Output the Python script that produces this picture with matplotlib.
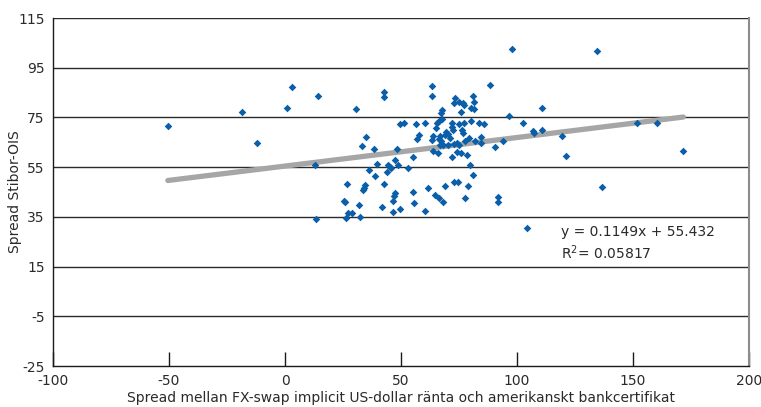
import matplotlib
matplotlib.use("Agg")
import matplotlib.pyplot as plt
import numpy as np

# Data
x_vals = [
    -50.5, -18.5, -12.0, 0.9, 3.2, 14.4, 13.0, 13.3,
    42.7, 42.7, 30.7, 49.5, 51.2, 56.3, 57.8, 57.0, 35.0, 33.2, 38.2, 48.3,
    55.0, 47.3, 39.6, 44.2, 45.2, 45.6, 48.9, 36.0, 43.8, 53.1, 38.7, 26.8,
    42.6, 34.5, 34.0, 33.7, 47.5, 46.9, 46.5, 55.0, 55.7, 25.4, 25.7, 31.7,
    42.0, 49.5, 46.6, 27.1, 28.7, 32.4, 26.1,
    63.2, 63.3, 88.4, 73.1, 72.7, 75.1, 76.8, 77.1, 80.9, 81.4, 80.0, 81.4,
    75.9, 67.6, 67.2, 96.6, 60.3, 65.6, 66.2, 67.6, 65.3, 71.8, 72.1, 72.2,
    74.9, 77.2, 76.5, 76.8, 80.0, 83.6, 85.7, 69.3, 68.8, 70.3, 71.1, 66.8,
    66.4, 67.1, 63.9, 63.4, 66.8, 68.2, 70.3, 72.8, 74.2, 75.1, 77.8, 79.3,
    82.1, 84.3, 84.3, 93.8, 90.6, 63.9, 66.0, 74.2, 75.9, 78.4, 71.9, 79.8,
    80.9, 61.7, 68.9, 72.7, 74.4, 79.0, 64.6, 66.5, 68.0, 77.8, 91.8, 91.8,
    60.3,
    97.8, 134.4, 102.7, 110.6, 107.1, 107.4, 110.6, 119.4, 121.1, 151.6,
    160.2, 171.7, 136.6, 104.1,
]
y_vals = [
    71.5, 77.0, 64.8, 78.9, 87.1, 83.7, 55.8, 34.3,
    85.3, 83.3, 78.4, 72.2, 72.8, 72.3, 67.9, 66.3, 67.0, 63.6, 62.1, 62.5,
    58.9, 57.8, 56.2, 55.8, 55.1, 54.7, 55.8, 53.9, 53.0, 54.5, 51.5, 48.4,
    48.4, 47.7, 46.8, 46.0, 44.4, 43.4, 41.3, 44.8, 40.4, 41.4, 40.8, 39.6,
    38.9, 38.0, 36.9, 36.6, 36.4, 35.1, 34.5,
    87.7, 83.5, 88.0, 82.8, 80.8, 81.3, 80.8, 80.2, 83.5, 81.1, 78.9, 78.4,
    77.1, 77.8, 76.6, 75.7, 72.8, 72.8, 73.5, 74.4, 70.8, 72.6, 71.2, 69.9,
    72.2, 72.6, 69.9, 68.6, 73.6, 72.6, 72.3, 69.2, 67.9, 68.3, 66.8, 67.5,
    66.3, 65.5, 67.5, 65.9, 64.1, 63.9, 63.9, 64.5, 64.9, 63.9, 65.7, 66.8,
    65.7, 67.2, 64.9, 65.7, 63.3, 61.4, 60.5, 61.2, 60.5, 59.8, 58.9, 55.9,
    51.9, 46.8, 47.5, 49.0, 49.0, 47.3, 43.7, 42.4, 40.8, 42.4, 42.9, 40.9,
    37.3,
    102.4, 101.8, 72.9, 78.8, 69.4, 68.7, 69.9, 67.4, 59.4, 72.7,
    72.7, 61.4, 46.9, 30.7,
]

slope = 0.1149
intercept = 55.432
r_squared = 0.05817

x_ticks = [-100, -50, 0, 50, 100, 150, 200]
y_ticks = [-25, -5, 15, 35, 55, 75, 95, 115]

x_label = "Spread mellan FX-swap implicit US-dollar ränta och amerikanskt bankcertifikat"
y_label = "Spread Stibor-OIS"

plt.rcParams['font.family'] = ['DejaVu Sans']
plt.rcParams['axes.unicode_minus'] = False

fig = plt.figure(figsize=(7.61, 4.07), dpi=100)
ax = fig.add_axes([53 / 761, 1 - 366 / 407, (749 - 53) / 761, (366 - 18) / 407])

ax.set_xlim(-100, 200)
ax.set_ylim(-25, 115)
ax.set_xticks(x_ticks)
ax.set_yticks(y_ticks)

for yt in y_ticks[1:]:
    ax.axhline(yt, color='#2a2a2a', lw=1.0, zorder=1)

xs = np.array(x_vals)
xl = np.array([xs.min(), xs.max()])
ax.plot(xl, slope * xl + intercept, color='#a6a6a6', lw=3.8,
        solid_capstyle='round', zorder=2)

ax.scatter(x_vals, y_vals, marker='D', s=15, color='#0a5fa8',
           linewidths=0, zorder=3)

for side in ['left', 'bottom']:
    ax.spines[side].set_color('#1a1a1a')
    ax.spines[side].set_linewidth(1.0)
ax.spines['top'].set_visible(False)
ax.spines['right'].set_color('#8c8c8c')
ax.spines['right'].set_linewidth(1.5)

ax.tick_params(axis='x', direction='in', length=10, width=1.0,
               color='#1a1a1a', labelsize=10, labelcolor='#2a2a2a', pad=6)
ax.tick_params(axis='y', length=0, labelsize=10, labelcolor='#2a2a2a', pad=6)

ax.set_xlabel(x_label, fontsize=10, color='#2a2a2a', labelpad=2)
ax.set_ylabel(y_label, fontsize=10, color='#2a2a2a')
ax.yaxis.set_label_coords(-38 / 696, 0.5)
ax.yaxis.label.set_verticalalignment('center')

ax.text(119, 28.8, f"y = {slope}x + {intercept}", fontsize=10,
        color='#2a2a2a', va='center', ha='left')
ax.text(119, 20.4, f"R$^2$= {r_squared}", fontsize=10,
        color='#2a2a2a', va='center', ha='left')

fig.savefig("out.png", dpi=100)
